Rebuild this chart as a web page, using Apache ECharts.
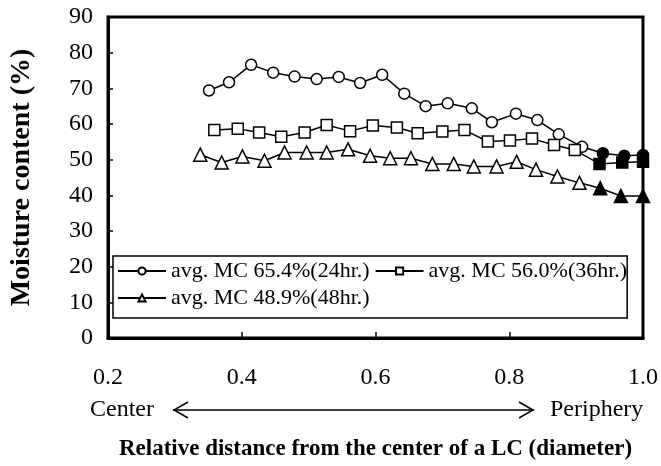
<!DOCTYPE html>
<html>
<head>
<meta charset="utf-8">
<script src="https://cdn.jsdelivr.net/npm/echarts@6/dist/echarts.min.js"></script>
<style>html,body{margin:0;padding:0;background:#fff;}#c{width:661px;height:466px;}</style>
</head>
<body>
<div id="c"></div>
<script>
// ---- data ----
const seriesNames = ['avg. MC 65.4%(24hr.)', 'avg. MC 56.0%(36hr.)', 'avg. MC 48.9%(48hr.)'];
const xTickLabels = ['0.2', '0.4', '0.6', '0.8', '1.0'];

const x24 = [0.351, 0.381, 0.414, 0.447, 0.479, 0.512, 0.545, 0.577, 0.610, 0.643, 0.675, 0.708, 0.744, 0.774, 0.810, 0.842, 0.874, 0.909, 0.940, 0.972, 1.0];
const y24 = [69.4, 71.7, 76.6, 74.4, 73.3, 72.6, 73.2, 71.5, 73.8, 68.5, 65.0, 65.8, 64.4, 60.5, 62.9, 61.1, 57.1, 53.6, 51.8, 51.1, 51.3];

const x36 = [0.359, 0.394, 0.426, 0.459, 0.494, 0.527, 0.562, 0.596, 0.632, 0.663, 0.700, 0.733, 0.768, 0.801, 0.834, 0.867, 0.898, 0.935, 0.969, 1.0];
const y36 = [58.3, 58.7, 57.6, 56.4, 57.6, 59.7, 58.0, 59.6, 59.0, 57.4, 57.9, 58.3, 55.1, 55.4, 55.9, 54.1, 52.7, 48.8, 49.2, 49.4];

const x48 = [0.338, 0.370, 0.401, 0.434, 0.464, 0.497, 0.527, 0.559, 0.592, 0.622, 0.653, 0.685, 0.717, 0.747, 0.781, 0.811, 0.840, 0.872, 0.905, 0.936, 0.967, 1.0];
const y48 = [51.4, 49.2, 50.9, 49.7, 52.0, 52.0, 52.0, 52.9, 51.1, 50.4, 50.4, 48.8, 48.8, 48.1, 48.1, 49.4, 47.2, 45.3, 43.5, 42.0, 39.8, 39.8];

// number of trailing points drawn as filled markers
const filledCount24 = 3, filledCount36 = 3, filledCount48 = 3;

// ---- build chart ----
const SERIF = '"Liberation Serif", "Times New Roman", serif';

function buildData(xs, ys, filledCount) {
  return xs.map((x, i) => {
    const item = { value: [x, ys[i]] };
    if (i >= xs.length - filledCount) item.itemStyle = { color: '#000' };
    return item;
  });
}

function makeSeries(name, symbol, size, xs, ys, filled) {
  return {
    name: name,
    type: 'line',
    symbol: symbol,
    symbolSize: size,
    showAllSymbol: true,
    clip: false,
    lineStyle: { color: '#000', width: 1.5 },
    itemStyle: { color: '#fff', borderColor: '#000', borderWidth: 1.5 },
    emphasis: { disabled: true },
    data: buildData(xs, ys, filled)
  };
}

const chart = echarts.init(document.getElementById('c'), null, { renderer: 'canvas' });
chart.setOption({
  animation: false,
  backgroundColor: '#fff',
  grid: { left: 94, right: 16, top: 17, bottom: 126, show: true, borderColor: '#000', borderWidth: 3, backgroundColor: 'transparent' },
  legend: {
    left: 113, top: 256, width: 540,
    orient: 'horizontal',
    padding: [4, 0, 9, 4],
    itemGap: 5,
    itemWidth: 48, itemHeight: 9,
    borderColor: '#000', borderWidth: 1.5, borderRadius: 0,
    textStyle: { fontFamily: SERIF, fontSize: 22, color: '#000', padding: [0, 6, 0, 0] },
    data: seriesNames
  },
  xAxis: {
    type: 'value', min: 0.2, max: 1.0, interval: 0.2,
    name: 'Relative distance from the center of a LC (diameter)',
    nameLocation: 'middle', nameGap: 100,
    nameTextStyle: { fontFamily: SERIF, fontSize: 23, fontWeight: 'bold', color: '#000' },
    axisLine: { show: true, lineStyle: { color: '#000', width: 3 } },
    axisTick: { show: true, inside: true, length: 6, lineStyle: { color: '#000', width: 1.5 } },
    axisLabel: { fontFamily: SERIF, fontSize: 24, color: '#000', margin: 28,
      formatter: function (v) { const i = Math.round((v - 0.2) / 0.2); return xTickLabels[i] || ''; } },
    splitLine: { show: false }
  },
  yAxis: {
    type: 'value', min: 0, max: 90, interval: 10,
    name: 'Moisture content (%)',
    nameLocation: 'middle', nameGap: 72, nameRotate: 90,
    nameTextStyle: { fontFamily: SERIF, fontSize: 28, fontWeight: 'bold', color: '#000' },
    axisLine: { show: true, lineStyle: { color: '#000', width: 3 } },
    axisTick: { show: true, inside: true, length: 5, lineStyle: { color: '#000', width: 1.5 } },
    axisLabel: { fontFamily: SERIF, fontSize: 24, color: '#000', margin: 15 },
    splitLine: { show: false }
  },
  graphic: [
    { type: 'text', x: 90, y: 410, style: { text: 'Center', font: '24px ' + SERIF, fill: '#000', textVerticalAlign: 'middle' } },
    { type: 'text', x: 550, y: 410, style: { text: 'Periphery', font: '24px ' + SERIF, fill: '#000', textVerticalAlign: 'middle' } },
    { type: 'line', shape: { x1: 173, y1: 410, x2: 534, y2: 410 }, style: { stroke: '#000', lineWidth: 1.5 } },
    { type: 'polyline', shape: { points: [[188, 402], [174, 410], [188, 418]] }, style: { stroke: '#000', lineWidth: 1.5, fill: null } },
    { type: 'polyline', shape: { points: [[519, 402], [533, 410], [519, 418]] }, style: { stroke: '#000', lineWidth: 1.5, fill: null } }
  ],
  series: [
    makeSeries(seriesNames[0], 'circle', 11, x24, y24, filledCount24),
    makeSeries(seriesNames[1], 'rect', 11, x36, y36, filledCount36),
    makeSeries(seriesNames[2], 'triangle', 13, x48, y48, filledCount48)
  ]
});
</script>
</body>
</html>
